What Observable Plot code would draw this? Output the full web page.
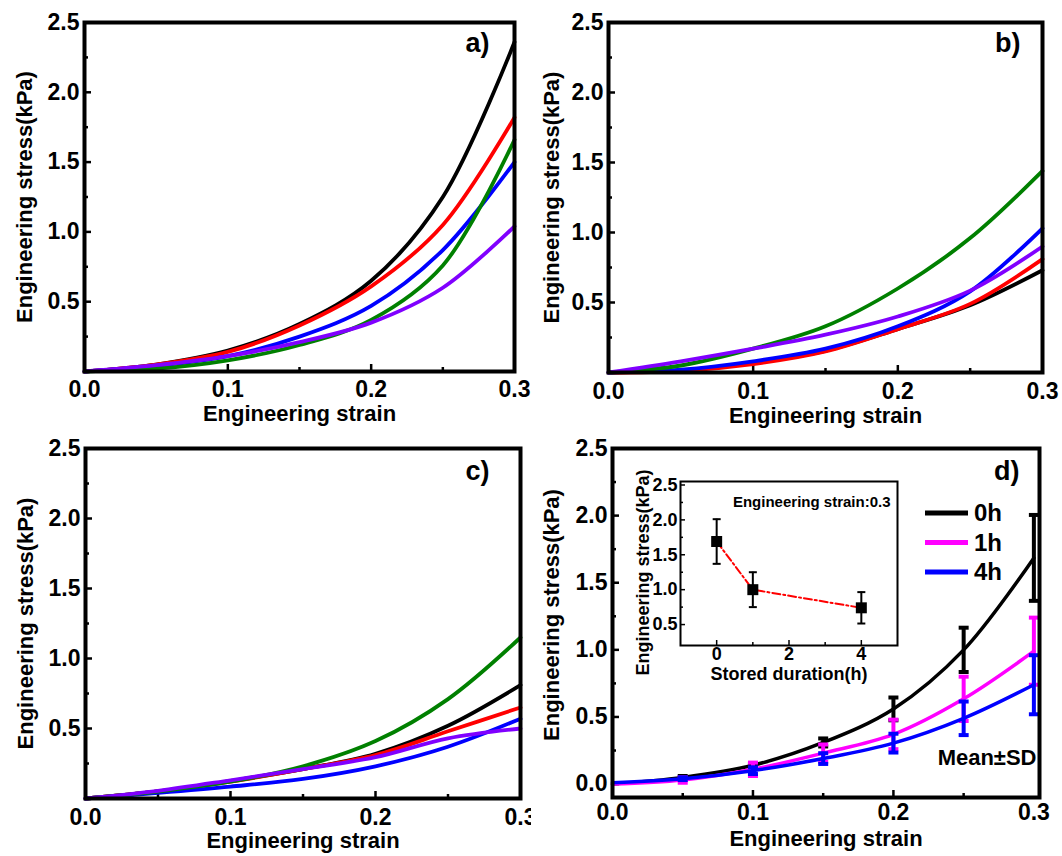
<!DOCTYPE html>
<html><head><meta charset="utf-8">
<script src="https://cdn.jsdelivr.net/npm/d3@7"></script>
<script src="https://cdn.jsdelivr.net/npm/@observablehq/plot@0.6"></script>
<style>
body{margin:0;background:#fff;}
#fig{position:relative;width:1062px;height:856px;overflow:hidden;background:#fff;font-family:"Liberation Sans",Arial,Helvetica,sans-serif;}
.panel{position:absolute;width:531px;height:428px;overflow:hidden;}
.abs{position:absolute;}
</style></head><body><div id="fig"></div><script>
// ---------- data ----------
const strain = [0, 0.05, 0.1, 0.15, 0.2, 0.25, 0.3];
const seriesNames = ["S1", "S2", "S3", "S4", "S5"];
const seriesColors = ["#000000", "#ff0000", "#0000ff", "#008000", "#8000ff"];

// panel a)
const aBlack  = [0, 0.05, 0.15, 0.34, 0.65, 1.25, 2.36];
const aRed    = [0, 0.05, 0.14, 0.33, 0.61, 1.05, 1.82];
const aBlue   = [0, 0.04, 0.11, 0.25, 0.47, 0.87, 1.50];
const aGreen  = [0, 0.02, 0.08, 0.19, 0.37, 0.76, 1.66];
const aPurple = [0, 0.045, 0.11, 0.21, 0.35, 0.60, 1.04];
// panel b)
const bBlack  = [0, 0.015, 0.07, 0.155, 0.31, 0.48, 0.73];
const bRed    = [0, 0.01, 0.06, 0.15, 0.31, 0.49, 0.81];
const bBlue   = [0, 0.02, 0.08, 0.17, 0.33, 0.58, 1.03];
const bGreen  = [0, 0.05, 0.17, 0.33, 0.60, 0.96, 1.44];
const bPurple = [0, 0.08, 0.17, 0.27, 0.40, 0.585, 0.90];
// panel c)
const cBlack  = [0, 0.05, 0.125, 0.21, 0.32, 0.52, 0.81];
const cRed    = [0, 0.05, 0.12, 0.21, 0.31, 0.48, 0.65];
const cBlue   = [0, 0.04, 0.085, 0.14, 0.23, 0.37, 0.57];
const cGreen  = [0, 0.05, 0.12, 0.23, 0.41, 0.71, 1.15];
const cPurple = [0, 0.055, 0.13, 0.21, 0.295, 0.43, 0.50];

// panel d) mean ± SD
const strainD = [0, 0.05, 0.1, 0.15, 0.2, 0.25, 0.3];
const groupNames = ["0h", "1h", "4h"];
const groupColors = ["#000000", "#ff00ff", "#0000ff"];
const mean0h = [0, 0.05, 0.14, 0.31, 0.56, 1.00, 1.685];
const sd0h   = [0, 0.01, 0.012, 0.03, 0.085, 0.165, 0.32];
const mean1h = [0, 0.03, 0.11, 0.23, 0.37, 0.635, 0.99];
const sd1h   = [0, 0.02, 0.05, 0.065, 0.11, 0.165, 0.25];
const mean4h = [0.01, 0.04, 0.10, 0.19, 0.305, 0.49, 0.74];
const sd4h   = [0, 0.01, 0.025, 0.04, 0.07, 0.125, 0.22];

// inset: stress at strain 0.3 vs stored duration
const storedHours = [0, 1, 4];
const stressAt03 = [1.69, 1.0, 0.74];
const sdAt03 = [0.32, 0.25, 0.225];

// tick values
const xLabelTicks = [0, 0.1, 0.2, 0.3];
const xMajorTicks = [0.1, 0.2];
const xMinorTicks = [0.05, 0.15, 0.25];
const yLabelTicksABC = [0.5, 1.0, 1.5, 2.0, 2.5];
const yLabelTicksD = [0, 0.5, 1.0, 1.5, 2.0, 2.5];
const yMinorTicks = [0.25, 0.75, 1.25, 1.75, 2.25];
const insetYTicks = [0.5, 1.0, 1.5, 2.0, 2.5];
const insetYMinor = [0.75, 1.25, 1.75, 2.25];
const insetXTicks = [0, 2, 4];
const insetXMinor = [1, 3];

// ---------- helpers ----------
const FONT = '"Liberation Sans", Arial, Helvetica, sans-serif';
const fig = document.getElementById("fig");
const f1 = d3.format(".1f");
const f0 = d3.format("d");
const blank = () => "";
const capSymbol = {draw(ctx, size) { const r = Math.sqrt(size / Math.PI); ctx.moveTo(-r, 0); ctx.lineTo(r, 0); }};

function rowsFor(list) {
  const rows = [];
  list.forEach((vals, k) => strain.forEach((s, i) => rows.push({series: seriesNames[k], strain: s, stress: vals[i]})));
  return rows;
}

function commonMarks(o) {
  return [
    Plot.axisX({ticks: xLabelTicks, tickSize: 0, tickPadding: o.xPad, tickFormat: f1, label: null}),
    Plot.axisX({ticks: xMajorTicks, tickSize: -7, strokeWidth: 2.5, tickFormat: blank, label: null}),
    Plot.axisX({ticks: xMinorTicks, tickSize: -4, strokeWidth: 2.5, tickFormat: blank, label: null}),
    Plot.axisY({ticks: o.yLabels, tickSize: 0, tickPadding: 5, tickFormat: f1, label: null}),
    Plot.axisY({ticks: o.yLabels, tickSize: -7, strokeWidth: 2.5, tickFormat: blank, label: null}),
    Plot.axisY({ticks: yMinorTicks, tickSize: -4, strokeWidth: 2.5, tickFormat: blank, label: null}),
    Plot.text(["Engineering strain"], {frameAnchor: "bottom", dy: o.xtDy, textAnchor: "middle", lineAnchor: "middle", fontSize: 22}),
    Plot.text(["Engineering stress(kPa)"], {frameAnchor: "left", dx: o.ytDx, dy: o.ytDy || 0, rotate: -90, textAnchor: "middle", lineAnchor: "middle", fontSize: 22}),
    Plot.text([o.tag], {frameAnchor: "top-right", dx: o.tagDx, dy: o.tagDy, textAnchor: "end", lineAnchor: "middle", fontSize: 27})
  ];
}

function curvePanel(o) {
  return Plot.plot({
    width: 531, height: 428,
    marginLeft: o.ml, marginRight: o.mr, marginTop: o.mt, marginBottom: o.mb,
    style: {fontFamily: FONT, fontSize: "23px", fontWeight: "bold", color: "#000", background: "transparent", overflow: "visible"},
    x: {domain: [0, 0.3]},
    y: {domain: [0, 2.5]},
    color: {domain: seriesNames, range: seriesColors},
    marks: [
      ...commonMarks({...o, yLabels: yLabelTicksABC}),
      Plot.line(rowsFor(o.series), {x: "strain", y: "stress", z: "series", stroke: "series", strokeWidth: 3.8, curve: "catmull-rom"}),
      Plot.frame({strokeWidth: 4})
    ]
  });
}

function place(node, left, top, cls = "panel") {
  const div = document.createElement("div");
  div.className = cls;
  div.style.left = left + "px";
  div.style.top = top + "px";
  div.appendChild(node);
  fig.appendChild(div);
  return div;
}

// ---------- panels a, b, c ----------
place(curvePanel({series: [aBlack, aRed, aBlue, aGreen, aPurple], ml: 84, mr: 17, mt: 22, mb: 57,
  xPad: 9, xtDy: 42, ytDx: -60, tag: "a)", tagDx: -25, tagDy: 21}), 0, 0);
place(curvePanel({series: [bBlack, bRed, bBlue, bGreen, bPurple], ml: 77, mr: 20, mt: 22, mb: 56,
  xPad: 10, xtDy: 43, ytDx: -57, tag: "b)", tagDx: -22, tagDy: 21}), 531, 0);
place(curvePanel({series: [cBlack, cRed, cBlue, cGreen, cPurple], ml: 85, mr: 11, mt: 20, mb: 58,
  xPad: 10, xtDy: 42, ytDx: -60, tag: "c)", tagDx: -31, tagDy: 23}), 0, 428);

// ---------- panel d ----------
const dMeans = [mean0h, mean1h, mean4h];
const dSds = [sd0h, sd1h, sd4h];
const dRows = [];
groupNames.forEach((g, k) => strainD.forEach((s, i) => dRows.push({group: g, strain: s, mean: dMeans[k][i], lo: dMeans[k][i] - dSds[k][i], hi: dMeans[k][i] + dSds[k][i]})));
const dErr = dRows.filter(d => d.strain > 0);

const panelD = Plot.plot({
  width: 531, height: 428,
  marginLeft: 81, marginRight: 23, marginTop: 20, marginBottom: 59,
  style: {fontFamily: FONT, fontSize: "23px", fontWeight: "bold", color: "#000", background: "transparent", overflow: "visible"},
  x: {domain: [0, 0.304]},
  y: {domain: [-0.1, 2.5]},
  color: {domain: groupNames, range: groupColors},
  marks: [
    ...commonMarks({xPad: 6, xtDy: 41, ytDx: -61, ytDy: -8, tag: "d)", tagDx: -20, tagDy: 23, yLabels: yLabelTicksD}),
    ...groupNames.map(g => [
      Plot.line(dRows.filter(d => d.group === g), {x: "strain", y: "mean", stroke: "group", strokeWidth: 3.5, curve: "catmull-rom"}),
      Plot.ruleX(dErr.filter(d => d.group === g), {x: "strain", y1: "lo", y2: "hi", stroke: "group", strokeWidth: 4}),
      Plot.dot(dErr.filter(d => d.group === g), {x: "strain", y: "hi", r: 5, symbol: capSymbol, fill: "none", stroke: "group", strokeWidth: 4}),
      Plot.dot(dErr.filter(d => d.group === g), {x: "strain", y: "lo", r: 5, symbol: capSymbol, fill: "none", stroke: "group", strokeWidth: 4})
    ]).flat(),
    Plot.text(["Mean\u00b1SD"], {frameAnchor: "bottom-right", dx: -3, dy: -40, textAnchor: "end", lineAnchor: "middle", fontSize: 22}),
    Plot.frame({strokeWidth: 4})
  ]
});
place(panelD, 531, 428);

// legend for panel d
const legend = d3.select(fig).append("svg").attr("class", "abs")
  .style("left", "918px").style("top", "495px").attr("width", 110).attr("height", 95)
  .style("font-family", FONT).style("font-weight", "bold").style("font-size", "24px");
groupNames.forEach((g, i) => {
  const y = 18 + i * 29.5;
  legend.append("line").attr("x1", 7).attr("x2", 50).attr("y1", y).attr("y2", y)
    .attr("stroke", groupColors[i]).attr("stroke-width", 5);
  legend.append("text").attr("x", 56).attr("y", y).attr("dy", "0.35em").text(g);
});

// ---------- inset ----------
const insetRows = storedHours.map((h, i) => ({h, v: stressAt03[i], lo: stressAt03[i] - sdAt03[i], hi: stressAt03[i] + sdAt03[i]}));
const inset = Plot.plot({
  width: 290, height: 210,
  marginLeft: 60, marginRight: 13, marginTop: 11, marginBottom: 35,
  style: {fontFamily: FONT, fontSize: "18px", fontWeight: "bold", color: "#000", background: "transparent", overflow: "visible"},
  x: {domain: [-1, 5]},
  y: {domain: [0.2, 2.55]},
  marks: [
    Plot.axisX({ticks: insetXTicks, tickSize: 0, tickPadding: 2, tickFormat: f0, label: null}),
    Plot.axisX({ticks: insetXTicks, tickSize: -5, strokeWidth: 1.5, tickFormat: blank, label: null}),
    Plot.axisX({ticks: insetXMinor, tickSize: -3, strokeWidth: 1.5, tickFormat: blank, label: null}),
    Plot.axisY({ticks: insetYTicks, tickSize: 0, tickPadding: 3, tickFormat: f1, label: null}),
    Plot.axisY({ticks: insetYTicks, tickSize: -5, strokeWidth: 1.5, tickFormat: blank, label: null}),
    Plot.axisY({ticks: insetYMinor, tickSize: -3, strokeWidth: 1.5, tickFormat: blank, label: null}),
    Plot.text(["Stored duration(h)"], {frameAnchor: "bottom", dy: 29, textAnchor: "middle", lineAnchor: "middle", fontSize: 18}),
    Plot.text(["Engineering stress(kPa)"], {frameAnchor: "left", dx: -37, dy: 9, rotate: -90, textAnchor: "middle", lineAnchor: "middle", fontSize: 18}),
    Plot.text(["Engineering strain:0.3"], {frameAnchor: "top-right", dx: -7, dy: 21, textAnchor: "end", lineAnchor: "middle", fontSize: 15}),
    Plot.line(insetRows, {x: "h", y: "v", stroke: "#ff0000", strokeWidth: 2, strokeDasharray: "8,3,2,3"}),
    Plot.ruleX(insetRows, {x: "h", y1: "lo", y2: "hi", stroke: "#000", strokeWidth: 2}),
    Plot.dot(insetRows, {x: "h", y: "hi", r: 4, symbol: capSymbol, fill: "none", stroke: "#000", strokeWidth: 2}),
    Plot.dot(insetRows, {x: "h", y: "lo", r: 4, symbol: capSymbol, fill: "none", stroke: "#000", strokeWidth: 2}),
    Plot.dot(insetRows, {x: "h", y: "v", r: 6.2, symbol: "square", fill: "#000", stroke: "none"}),
    Plot.frame({strokeWidth: 2})
  ]
});
place(inset, 620, 470, "abs");
</script></body></html>
